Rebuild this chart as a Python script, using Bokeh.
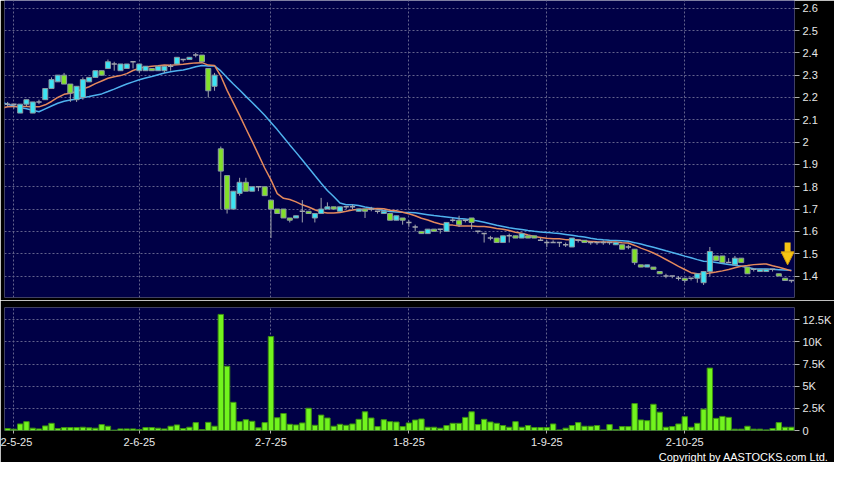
import numpy as np
import pandas as pd
from bokeh.plotting import figure
from bokeh.models import FixedTicker, Range1d, Title, Arrow, NormalHead
from bokeh.layouts import column
from bokeh.embed import file_html
from bokeh.resources import INLINE

# ---------------- data ----------------
opens = [2.17, 2.17, 2.13, 2.17, 2.13, 2.18, 2.19, 2.24, 2.27, 2.30,
         2.26, 2.19, 2.20, 2.27, 2.29, 2.32, 2.33, 2.35, 2.32, 2.33,
         2.36, 2.32, 2.32, 2.33, 2.32, 2.32, 2.34, 2.35, 2.37, 2.37,
         2.39, 2.39, 2.33, 2.25, 1.97, 1.85, 1.70, 1.77, 1.82, 1.78,
         1.80, 1.80, 1.74, 1.70, 1.70, 1.66, 1.66, 1.69, 1.69, 1.66,
         1.68, 1.70, 1.71, 1.69, 1.71, 1.71, 1.69, 1.70, 1.70, 1.69,
         1.68, 1.68, 1.65, 1.66, 1.64, 1.62, 1.60, 1.59, 1.61, 1.61,
         1.60, 1.65, 1.65, 1.65, 1.66, 1.60, 1.59, 1.57, 1.57, 1.55,
         1.58, 1.58, 1.57, 1.58, 1.58, 1.56, 1.55, 1.55, 1.55, 1.54,
         1.53, 1.56, 1.56, 1.55, 1.55, 1.55, 1.55, 1.54, 1.54, 1.53,
         1.52, 1.45, 1.44, 1.44, 1.42, 1.40, 1.40, 1.39, 1.39, 1.39,
         1.39, 1.37, 1.42, 1.49, 1.49, 1.46, 1.45, 1.48, 1.44, 1.43,
         1.42, 1.42, 1.43, 1.41, 1.39, 1.38]
highs = [2.18, 2.17, 2.17, 2.19, 2.18, 2.19, 2.24, 2.29, 2.30, 2.31,
         2.26, 2.25, 2.29, 2.29, 2.32, 2.32, 2.37, 2.36, 2.35, 2.35,
         2.36, 2.35, 2.34, 2.33, 2.34, 2.34, 2.35, 2.38, 2.37, 2.38,
         2.40, 2.39, 2.33, 2.31, 1.98, 1.85, 1.78, 1.84, 1.84, 1.80,
         1.80, 1.80, 1.74, 1.70, 1.70, 1.66, 1.67, 1.74, 1.69, 1.68,
         1.75, 1.73, 1.71, 1.71, 1.71, 1.72, 1.70, 1.70, 1.71, 1.69,
         1.69, 1.68, 1.67, 1.66, 1.65, 1.63, 1.60, 1.61, 1.61, 1.61,
         1.64, 1.66, 1.67, 1.65, 1.66, 1.60, 1.59, 1.58, 1.57, 1.58,
         1.59, 1.58, 1.59, 1.58, 1.58, 1.57, 1.56, 1.56, 1.55, 1.55,
         1.57, 1.56, 1.56, 1.55, 1.55, 1.56, 1.55, 1.55, 1.54, 1.54,
         1.52, 1.45, 1.45, 1.44, 1.42, 1.41, 1.40, 1.40, 1.39, 1.39,
         1.41, 1.42, 1.53, 1.49, 1.49, 1.48, 1.49, 1.48, 1.44, 1.43,
         1.43, 1.43, 1.43, 1.41, 1.39, 1.38]
lows = [2.16, 2.15, 2.13, 2.16, 2.13, 2.17, 2.19, 2.24, 2.27, 2.26,
        2.18, 2.18, 2.19, 2.27, 2.29, 2.30, 2.33, 2.32, 2.32, 2.33,
        2.33, 2.31, 2.32, 2.32, 2.32, 2.31, 2.32, 2.35, 2.36, 2.37,
        2.38, 2.36, 2.20, 2.23, 1.70, 1.68, 1.70, 1.76, 1.78, 1.78,
        1.78, 1.76, 1.57, 1.68, 1.66, 1.64, 1.66, 1.64, 1.68, 1.64,
        1.68, 1.70, 1.70, 1.69, 1.70, 1.70, 1.69, 1.66, 1.69, 1.68,
        1.68, 1.65, 1.65, 1.63, 1.62, 1.60, 1.59, 1.59, 1.60, 1.59,
        1.60, 1.64, 1.62, 1.64, 1.61, 1.59, 1.55, 1.56, 1.55, 1.55,
        1.55, 1.57, 1.57, 1.57, 1.57, 1.56, 1.53, 1.55, 1.53, 1.53,
        1.53, 1.55, 1.55, 1.54, 1.54, 1.54, 1.54, 1.54, 1.52, 1.52,
        1.45, 1.44, 1.44, 1.43, 1.41, 1.39, 1.39, 1.38, 1.37, 1.38,
        1.37, 1.36, 1.40, 1.47, 1.46, 1.46, 1.45, 1.46, 1.41, 1.42,
        1.42, 1.42, 1.42, 1.40, 1.38, 1.37]
closes = [2.17, 2.17, 2.17, 2.19, 2.18, 2.18, 2.24, 2.28, 2.30, 2.26,
          2.22, 2.25, 2.28, 2.29, 2.32, 2.30, 2.36, 2.35, 2.35, 2.35,
          2.36, 2.35, 2.34, 2.32, 2.34, 2.34, 2.34, 2.38, 2.37, 2.38,
          2.39, 2.36, 2.23, 2.30, 1.87, 1.70, 1.78, 1.82, 1.78, 1.80,
          1.80, 1.76, 1.70, 1.68, 1.66, 1.65, 1.67, 1.69, 1.68, 1.68,
          1.70, 1.71, 1.70, 1.71, 1.71, 1.71, 1.70, 1.69, 1.70, 1.69,
          1.69, 1.65, 1.67, 1.65, 1.64, 1.62, 1.59, 1.61, 1.60, 1.61,
          1.64, 1.65, 1.63, 1.65, 1.64, 1.60, 1.59, 1.57, 1.55, 1.58,
          1.58, 1.57, 1.59, 1.57, 1.57, 1.56, 1.55, 1.55, 1.55, 1.54,
          1.57, 1.56, 1.55, 1.55, 1.55, 1.55, 1.55, 1.55, 1.52, 1.53,
          1.46, 1.44, 1.45, 1.43, 1.41, 1.40, 1.40, 1.39, 1.38, 1.39,
          1.41, 1.42, 1.51, 1.47, 1.46, 1.46, 1.48, 1.46, 1.41, 1.43,
          1.43, 1.43, 1.43, 1.40, 1.38, 1.38]
# volume in thousands of shares
volumes_k = [0.22, 0.15, 0.74, 1.00, 0.26, 0.18, 0.52, 0.81, 0.22, 0.33,
             0.33, 0.33, 0.37, 0.30, 0.26, 0.67, 0.48, 0.04, 0.18, 0.18,
             0.18, 0.11, 0.33, 0.33, 0.26, 0.18, 0.48, 0.63, 0.22, 0.37,
             0.89, 0.11, 0.92, 0.48, 13.1, 7.25, 3.18, 1.00, 1.22, 1.04,
             0.30, 0.89, 10.6, 1.44, 1.92, 0.70, 0.63, 0.85, 2.51, 0.59,
             1.74, 1.41, 0.48, 0.70, 0.59, 0.74, 1.26, 2.11, 1.41, 0.44,
             1.22, 1.00, 0.96, 0.44, 0.85, 1.18, 1.30, 0.37, 0.37, 0.26,
             0.56, 0.81, 0.81, 1.48, 2.11, 0.67, 1.26, 0.96, 0.81, 0.56,
             0.37, 1.00, 0.37, 0.56, 0.33, 0.33, 0.33, 0.74, 0.07, 0.26,
             0.56, 0.89, 0.48, 0.48, 0.56, 0.07, 0.67, 0.11, 0.44, 0.44,
             3.04, 1.19, 1.11, 2.96, 2.07, 0.37, 0.44, 0.74, 1.56, 0.37,
             0.81, 2.41, 7.04, 1.37, 1.59, 1.48, 0.15, 0.15, 0.48, 0.15,
             0.15, 0.07, 0.22, 0.89, 0.37, 0.37]
# closes of the 20 sessions before the first bar (only feed the moving averages)
prior_closes = [2.33, 2.33, 2.32, 2.30, 2.31, 2.31, 1.98, 2.02, 2.06, 2.08,
                2.11, 2.15, 2.17, 2.19, 2.20, 2.18, 2.15, 2.13, 2.12, 2.12]

x_tick_index = [1, 21, 42, 64, 86, 108]
x_tick_labels = ["2-5-25", "2-6-25", "2-7-25", "1-8-25", "1-9-25", "2-10-25"]
price_ticks = [1.4, 1.5, 1.6, 1.7, 1.8, 1.9, 2.0, 2.1, 2.2, 2.3, 2.4, 2.5, 2.6]
price_tick_labels = ["1.4", "1.5", "1.6", "1.7", "1.8", "1.9", "2",
                     "2.1", "2.2", "2.3", "2.4", "2.5", "2.6"]
vol_ticks = [0, 2.5, 5, 7.5, 10, 12.5]
vol_tick_labels = ["0", "2.5K", "5K", "7.5K", "10K", "12.5K"]

# ---------------- styling ----------------
FONT = "Liberation Sans"
NAVY = "#000046"
GRID = "#62628c"
DASH = "2 2"
UP = "#3ce4f4"
DOWN = "#82e02a"
EDGE = "#8a9aa0"
WICK = "#a0a4ac"
TXT = "#e8e8e8"
W = 834

n = len(closes)
idx = np.arange(n)
o = np.array(opens)
c = np.array(closes)
h = np.array(highs)
lo = np.array(lows)
up = c > o
dn = c < o
fl = c == o

allc = pd.Series(prior_closes + closes)
xa = np.arange(-len(prior_closes), n)
ma10 = allc.rolling(10).mean().values
ma20 = allc.rolling(20).mean().values
keep = xa >= -1

x_range = Range1d(-0.5, n - 0.5)


def style_common(p):
    p.background_fill_color = NAVY
    p.border_fill_color = "black"
    p.outline_line_color = None
    p.min_border_left = 4
    p.min_border_right = 39
    p.xgrid.ticker = FixedTicker(ticks=x_tick_index)
    for g in (p.xgrid, p.ygrid):
        g.grid_line_color = GRID
        g.grid_line_dash = DASH
        g.grid_line_width = 1
    ax = p.yaxis[0]
    ax.axis_line_color = None
    ax.major_tick_line_color = "#b0b0b0"
    ax.major_tick_out = 5
    ax.major_tick_in = 0
    ax.minor_tick_line_color = None
    ax.major_label_text_color = TXT
    ax.major_label_text_font = FONT
    ax.major_label_text_font_size = "11px"
    ax.major_label_standoff = 3


# ---------------- price panel ----------------
pp = figure(width=W, height=300, x_range=x_range, y_range=Range1d(1.3037, 2.6345),
            x_axis_location=None, y_axis_location="right",
            toolbar_location=None, output_backend="svg")
style_common(pp)
pp.min_border_top = 0
pp.min_border_bottom = 3
pp.yaxis.ticker = FixedTicker(ticks=price_ticks)
pp.yaxis.major_label_overrides = dict(zip(price_ticks, price_tick_labels))
pp.ygrid.ticker = FixedTicker(ticks=price_ticks)

pp.line(xa[keep], ma20[keep], line_color="#4fb2ee", line_width=1.5)
pp.line(xa[keep], ma10[keep], line_color="#e4895c", line_width=1.5)

pp.segment(x0=idx, x1=idx, y0=lo, y1=h, line_color=WICK, line_width=1)
pp.vbar(x=idx[up], width=0.8, bottom=o[up], top=c[up],
        fill_color=UP, line_color=EDGE, line_width=1)
pp.vbar(x=idx[dn], width=0.8, bottom=c[dn], top=o[dn],
        fill_color=DOWN, line_color=EDGE, line_width=1)
pp.segment(x0=idx[fl] - 0.42, x1=idx[fl] + 0.42, y0=c[fl], y1=c[fl],
           line_color=WICK, line_width=1.5)

# marker arrow pointing at the latest session
ax_x = n - 1 - 0.6
tip = highs[-1] + 0.07
pp.add_layout(Arrow(end=NormalHead(size=13, fill_color="#f6c414", line_color="#d49a08", line_width=1),
                    x_start=ax_x, y_start=tip + 0.10, x_end=ax_x, y_end=tip,
                    line_color="#f6c414", line_width=6))

# ---------------- volume panel ----------------
pv = figure(width=W, height=162, x_range=x_range, y_range=Range1d(0, 13.88),
            y_axis_location="right", toolbar_location=None, output_backend="svg")
style_common(pv)
pv.min_border_top = 7
pv.min_border_bottom = 0
pv.yaxis.ticker = FixedTicker(ticks=vol_ticks)
pv.yaxis.major_label_overrides = dict(zip(vol_ticks, vol_tick_labels))
pv.ygrid.ticker = FixedTicker(ticks=vol_ticks)

xa_ax = pv.xaxis[0]
xa_ax.ticker = FixedTicker(ticks=x_tick_index)
xa_ax.major_label_overrides = dict(zip(x_tick_index, x_tick_labels))
xa_ax.axis_line_color = None
xa_ax.major_tick_line_color = "#b0b0b0"
xa_ax.major_tick_out = 3
xa_ax.major_tick_in = 0
xa_ax.minor_tick_line_color = None
xa_ax.major_label_text_color = TXT
xa_ax.major_label_text_font = FONT
xa_ax.major_label_text_font_size = "11px"
xa_ax.major_label_standoff = 4

pv.vbar(x=idx, width=0.86, bottom=0, top=volumes_k,
        fill_color="#72f41e", line_color="#3c9012", line_width=1)

pv.add_layout(Title(text="Copyright by AASTOCKS.com Ltd.", align="right",
                    text_color="#ffffff", text_font=FONT, text_font_size="11px",
                    text_font_style="normal", standoff=0, offset=-34), "below")

layout = column(pp, pv, spacing=0)
open("out.html", "w").write(file_html(layout, INLINE))
